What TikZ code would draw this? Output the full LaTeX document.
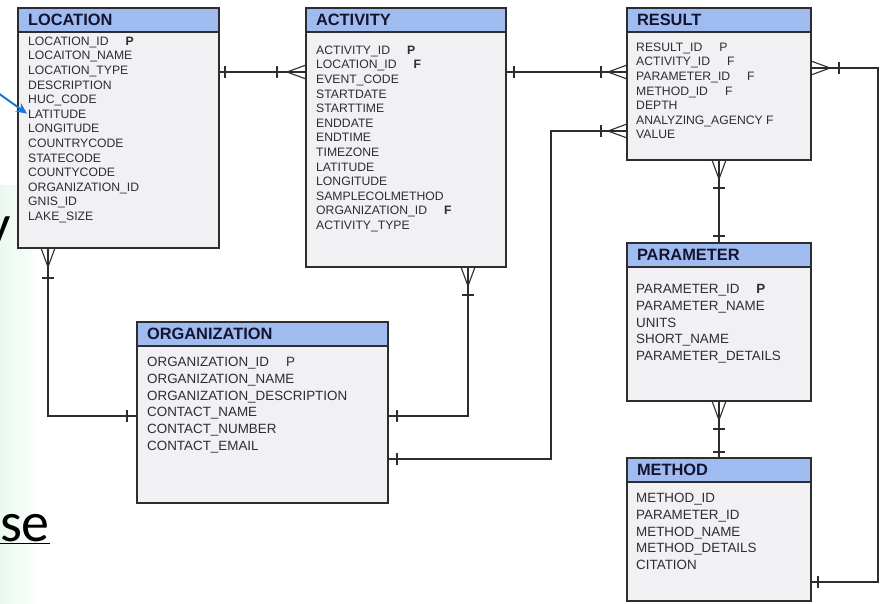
\documentclass[tikz,border=0pt]{standalone}
\usepackage{fontspec}
\setmainfont{Liberation Sans}
\newfontfamily\slidefont{Carlito}
\usetikzlibrary{arrows.meta,
                decorations.markings,
                positioning,
                shadings}
\definecolor{hdrblue}{RGB}{160,187,240}
\definecolor{bodygray}{RGB}{241,241,243}
\definecolor{edgegray}{RGB}{45,45,45}
\definecolor{inkgray}{RGB}{45,45,50}
\definecolor{hdrink}{RGB}{20,20,48}
\definecolor{ptrblue}{RGB}{25,118,210}
\definecolor{mint}{RGB}{234,248,239}
\newcommand{\keybold}[1]{\hspace{17pt}\textbf{#1}}
\newcommand{\keyplain}[1]{\hspace{17pt}#1}
\tikzset{%
    entityhead/.style = {rectangle, draw=edgegray, line width=1.3pt, fill=hdrblue,
                        anchor=north west, inner xsep=10pt, inner ysep=0pt, outer sep=0pt,
                        minimum height=24pt, align=left, text=hdrink,
                        font=\fontsize{16.4}{18}\selectfont\bfseries},
    entitybody/.style = {rectangle, draw=edgegray, line width=1.3pt, fill=bodygray,
                        inner sep=0pt, outer sep=0pt},
        fields/.style = {inner sep=0pt, align=left, text=inkgray,
                        font=\fontsize{12.2}{14.6}\selectfont},
     bigfields/.style = {fields, font=\fontsize{13.4}{16.8}\selectfont},
          conn/.style = {draw=edgegray, line width=1.1pt},
    tick start/.style = {postaction={decorate, decoration={markings,
                        mark=at position #1 with {\draw[edgegray, line width=1.1pt] (0,-6pt) -- (0,6pt);}}}},
      tick end/.style = {postaction={decorate, decoration={markings,
                        mark=at position -#1 with {\draw[edgegray, line width=1.1pt] (0,-6pt) -- (0,6pt);}}}},
    crow start/.style = {postaction={decorate, decoration={markings,
                        mark=at position 0 with {\draw[edgegray, line width=1.1pt] (0,7pt) -- (19pt,0) -- (0,-7pt);}}}},
      crow end/.style = {postaction={decorate, decoration={markings,
                        mark=at position 1 with {\draw[edgegray, line width=1.1pt] (0,7pt) -- (-19pt,0) -- (0,-7pt);}}}},
       pointer/.style = {draw=ptrblue, line width=2pt, -{Stealth[length=11pt, width=10pt]}}
        }

\begin{document}
\begin{tikzpicture}[x=1pt, y=-1pt]
\useasboundingbox (0,0) rectangle (885,603);
\fill[white] (0,0) rectangle (885,603);
\shade[left color=mint, right color=white] (0,185) rectangle (42,603);
% slide text behind the diagram
\node[anchor=base east, inner sep=0pt, font=\slidefont\fontsize{56}{60}\selectfont] (slidey) at (11,243) {y};
\node[anchor=base east, inner sep=0pt, font=\slidefont\fontsize{56}{60}\selectfont] (slideose) at (50,541) {\underline{ose}};
% LOCATION
\node [entityhead, text width=181pt] (locH) at (18,8) {LOCATION};
\node [entitybody, below=0pt of locH, minimum width=201pt, minimum height=216pt] (loc) {};
\node [fields, below right=4.6pt and 10pt of loc.north west] (locF)
      {LOCATION\_ID\keybold{P}\\ LOCAITON\_NAME\\ LOCATION\_TYPE\\ DESCRIPTION\\ HUC\_CODE\\
       LATITUDE\\ LONGITUDE\\ COUNTRYCODE\\ STATECODE\\ COUNTYCODE\\ ORGANIZATION\_ID\\
       GNIS\_ID\\ LAKE\_SIZE};
% ACTIVITY
\node [entityhead, text width=180pt] (actH) at (306,8) {ACTIVITY};
\node [entitybody, below=0pt of actH, minimum width=200pt, minimum height=235pt] (act) {};
\node [fields, below right=13.6pt and 10pt of act.north west] (actF)
      {ACTIVITY\_ID\keybold{P}\\ LOCATION\_ID\keybold{F}\\ EVENT\_CODE\\ STARTDATE\\ STARTTIME\\
       ENDDATE\\ ENDTIME\\ TIMEZONE\\ LATITUDE\\ LONGITUDE\\ SAMPLECOLMETHOD\\
       ORGANIZATION\_ID\keybold{F}\\ ACTIVITY\_TYPE};
% RESULT
\node [entityhead, text width=164pt] (resH) at (627,8) {RESULT};
\node [entitybody, below=0pt of resH, minimum width=184pt, minimum height=128pt] (res) {};
\node [fields, below right=10.6pt and 9pt of res.north west] (resF)
      {RESULT\_ID\keyplain{P}\\ ACTIVITY\_ID\keyplain{F}\\ PARAMETER\_ID\keyplain{F}\\
       METHOD\_ID\keyplain{F}\\ DEPTH\\ ANALYZING\_AGENCY F\\ VALUE};
% PARAMETER
\node [entityhead, text width=164pt] (parH) at (627,243) {PARAMETER};
\node [entitybody, below=0pt of parH, minimum width=184pt, minimum height=134pt] (par) {};
\node [bigfields, below right=17pt and 9pt of par.north west] (parF)
      {PARAMETER\_ID\keybold{P}\\ PARAMETER\_NAME\\ UNITS\\ SHORT\_NAME\\ PARAMETER\_DETAILS};
% METHOD
\node [entityhead, text width=164pt] (metH) at (627,458) {METHOD};
\node [entitybody, below=0pt of metH, minimum width=184pt, minimum height=119pt] (met) {};
\node [bigfields, below right=11pt and 9pt of met.north west] (metF)
      {METHOD\_ID\\ PARAMETER\_ID\\ METHOD\_NAME\\ METHOD\_DETAILS\\ CITATION};
% ORGANIZATION
\node [entityhead, text width=231pt] (orgH) at (137,322) {ORGANIZATION};
\node [entitybody, below=0pt of orgH, minimum width=251pt, minimum height=157pt] (org) {};
\node [bigfields, below right=11pt and 10pt of org.north west] (orgF)
      {ORGANIZATION\_ID\keyplain{P}\\ ORGANIZATION\_NAME\\ ORGANIZATION\_DESCRIPTION\\
       CONTACT\_NAME\\ CONTACT\_NUMBER\\ CONTACT\_EMAIL};
% relations
\path [conn, tick start=6pt, crow end, tick end=29pt]
      ([yshift=-40pt]loc.north east) -- ([yshift=-40pt]act.north west);
\path [conn, tick start=8pt, crow end, tick end=26pt]
      ([yshift=-40pt]act.north east) -- ([yshift=-40pt]res.north west);
\path [conn, tick start=9pt, crow end, tick end=26pt]
      ([yshift=-113pt]org.north east) -| ([xshift=-76pt, yshift=-99pt]res.north west)
      -- ([yshift=-99pt]res.north west);
\path [conn, tick start=9pt, crow end, tick end=28pt]
      ([yshift=-70pt]org.north east) -| ([xshift=62pt]act.south);
\path [conn, crow start, tick start=30pt, tick end=10pt]
      ([xshift=30pt]loc.south west) |- ([yshift=-70pt]org.north west);
\path [conn, crow start, tick start=28pt, tick end=7pt] (res.south) -- (parH.north);
\path [conn, crow start, tick start=28pt, tick end=6pt] (par.south) -- (metH.north);
\path [conn, crow start, tick start=28pt, tick end=7pt]
      ([yshift=-36pt]res.north east) -- ++(67,0) |- ([yshift=-100pt]met.north east);
% pointer from the slide
\coordinate (slideptr) at (-2,93);
\draw [pointer] (slideptr) -- ([xshift=-1pt, yshift=-77pt]locF.north west);
\end{tikzpicture}
\end{document}
